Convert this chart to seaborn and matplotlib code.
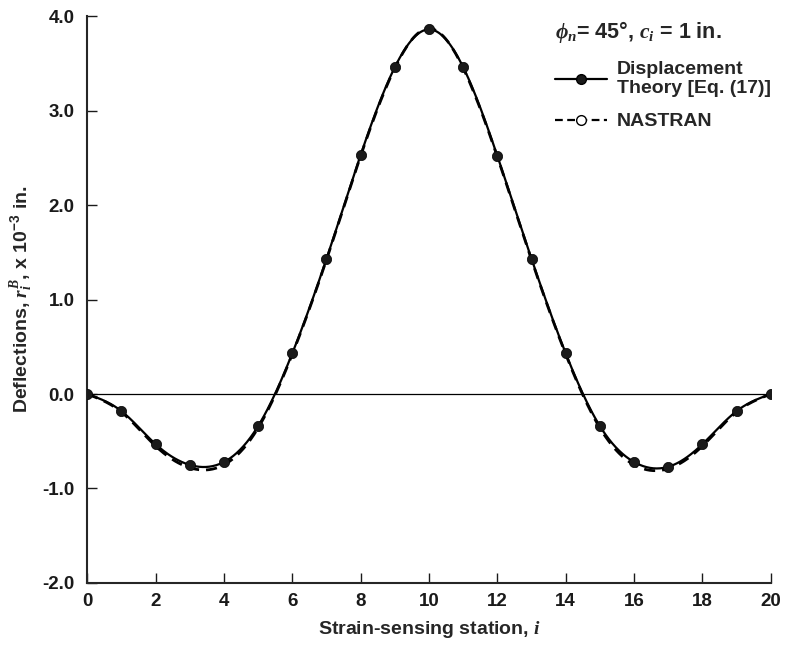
import numpy as np
import pandas as pd
import matplotlib
matplotlib.use("Agg")
import matplotlib.pyplot as plt
import seaborn as sns
from matplotlib.lines import Line2D

# ---- data ----
stations = list(range(21))
displacement = [0.0, -0.18, -0.53, -0.75, -0.72, -0.34, 0.43, 1.43, 2.53, 3.46, 3.86,
                3.46, 2.52, 1.43, 0.43, -0.34, -0.72, -0.77, -0.53, -0.18, 0.0]
nastran = [0.0, -0.19, -0.55, -0.78, -0.75, -0.36, 0.42, 1.42, 2.52, 3.45, 3.87,
           3.45, 2.51, 1.42, 0.42, -0.36, -0.75, -0.79, -0.55, -0.19, 0.0]
xticks = list(range(0, 21, 2))
yticks = [-2.0, -1.0, 0.0, 1.0, 2.0, 3.0, 4.0]


def natural_spline(x, y, n=600):
    x = np.asarray(x, float); y = np.asarray(y, float)
    k = len(x); h = np.diff(x)
    A = np.zeros((k, k)); b = np.zeros(k)
    A[0, 0] = A[-1, -1] = 1
    for i in range(1, k - 1):
        A[i, i - 1] = h[i - 1]; A[i, i] = 2 * (h[i - 1] + h[i]); A[i, i + 1] = h[i]
        b[i] = 3 * ((y[i + 1] - y[i]) / h[i] - (y[i] - y[i - 1]) / h[i - 1])
    c = np.linalg.solve(A, b)
    bb = (y[1:] - y[:-1]) / h - h * (2 * c[:-1] + c[1:]) / 3
    d = (c[1:] - c[:-1]) / (3 * h)
    xs = np.linspace(x[0], x[-1], n)
    idx = np.clip(np.searchsorted(x, xs) - 1, 0, k - 2)
    dx = xs - x[idx]
    ys = y[idx] + bb[idx] * dx + c[idx] * dx ** 2 + d[idx] * dx ** 3
    return xs, ys


sns.set_style("ticks")
plt.rcParams['font.family'] = ['Liberation Sans', 'DejaVu Sans']
plt.rcParams['font.weight'] = 'bold'
plt.rcParams['mathtext.fontset'] = 'custom'
plt.rcParams['mathtext.rm'] = 'Liberation Sans:bold'
plt.rcParams['mathtext.it'] = 'Liberation Serif:italic'
plt.rcParams['mathtext.bf'] = 'Liberation Sans:bold'

fig = plt.figure(figsize=(7.85, 6.47), dpi=100)
ax = fig.add_axes([0.111, 0.099, 0.871, 0.876])

xs, ys_n = natural_spline(stations, nastran)
_, ys_d = natural_spline(stations, displacement)
df_n = pd.DataFrame({"x": xs, "y": ys_n})
df_d = pd.DataFrame({"x": xs, "y": ys_d})
df_pts = pd.DataFrame({"x": stations, "y": displacement})

ax.axhline(0, color='black', lw=0.9, zorder=1)
sns.lineplot(data=df_n, x="x", y="y", ax=ax, color='black', lw=2.0,
             linestyle=(0, (4, 2.5)), zorder=2)
sns.lineplot(data=df_d, x="x", y="y", ax=ax, color='black', lw=1.6, zorder=3)
sns.scatterplot(data=df_pts, x="x", y="y", ax=ax, color='#1a1a1a', s=55,
                edgecolor='black', linewidth=0.5, zorder=4)

ax.set_xlim(0, 20)
ax.set_ylim(-2.0, 4.0)
ax.set_xticks(xticks)
ax.set_yticks(yticks)
ax.set_yticklabels([f"{v:.1f}" for v in yticks])
ax.tick_params(direction='in', length=7.5, width=1, labelsize=13.5, colors='#1a1a1a')
ax.tick_params(axis='y', pad=9)
ax.tick_params(axis='x', pad=7)
for lab in ax.get_xticklabels() + ax.get_yticklabels():
    lab.set_fontweight('bold')
sns.despine(ax=ax)
ax.spines['left'].set_linewidth(1.5)
ax.spines['bottom'].set_linewidth(1.5)

ax.set_xlabel(r"Strain-sensing station, $i$", fontsize=14, fontweight='bold', labelpad=7)
ax.set_ylabel(r"Deflections, $r_i^B$, x 10$^{-3}$ in.", fontsize=14, fontweight='bold', labelpad=5)

handles = [Line2D([], [], color='black', lw=1.6, marker='o', markersize=7,
                  markerfacecolor='#1a1a1a'),
           Line2D([], [], color='black', lw=1.6, linestyle=(0, (3.5, 2)), marker='o',
                  markersize=7, markerfacecolor='white')]
leg = ax.legend(handles, ["Displacement\nTheory [Eq. (17)]", "NASTRAN"],
                title=r"$\phi_n$= 45°, $c_i$ = 1 in.", loc='upper left',
                bbox_to_anchor=(0.684, 0.995), borderpad=0, borderaxespad=0,
                frameon=False, fontsize=14,
                title_fontsize=15.5, handlelength=2.7, labelspacing=0.8,
                handletextpad=0.5)
leg._legend_box.align = "left"
for t in leg.get_texts():
    t.set_fontweight('bold')
    t.set_linespacing(1.2)
leg.get_title().set_fontweight('bold')

fig.savefig("out.png", dpi=100)
